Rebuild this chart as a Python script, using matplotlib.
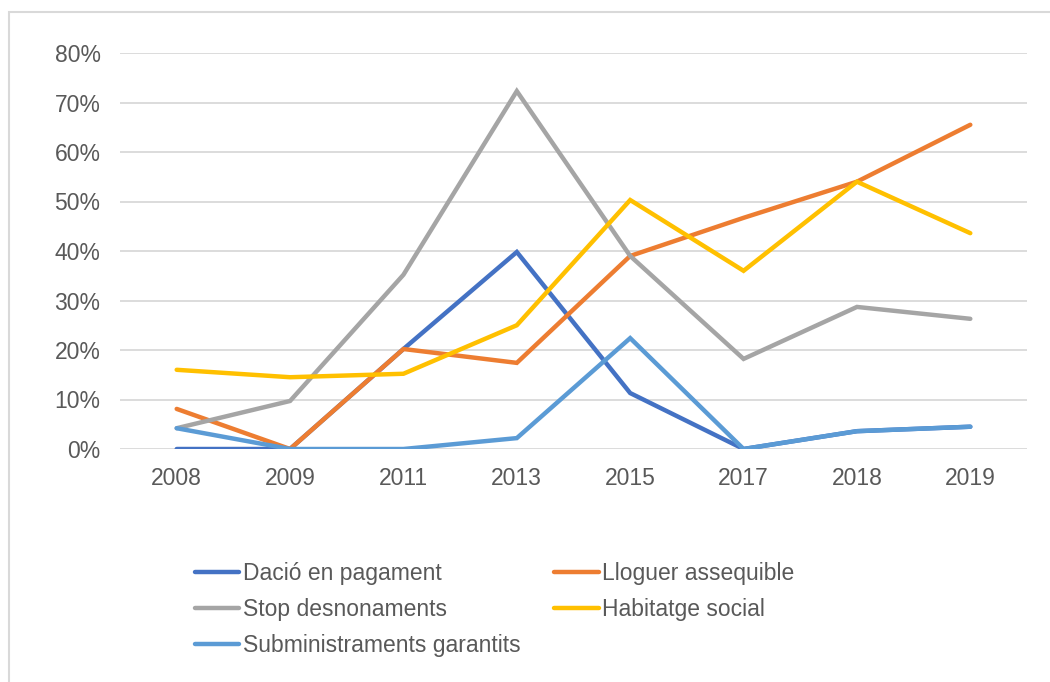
import numpy as np
import matplotlib.pyplot as plt
from matplotlib.lines import Line2D

plt.rcParams["font.family"] = ["Liberation Sans", "DejaVu Sans"]

# ── data (percent) ──
years = ["2008", "2009", "2011", "2013", "2015", "2017", "2018", "2019"]
dacio = [0.0, 0.0, 20.2, 39.8, 11.3, 0.0, 3.6, 4.5]
lloguer = [8.1, 0.0, 20.2, 17.4, 39.0, 46.7, 54.0, 65.5]
stop = [4.2, 9.7, 35.2, 72.3, 39.0, 18.2, 28.7, 26.3]
habitatge = [16.0, 14.5, 15.2, 25.0, 50.3, 36.0, 54.0, 43.6]
subministraments = [4.2, 0.0, 0.0, 2.2, 22.4, 0.0, 3.6, 4.5]

series = [
    ("Dació en pagament", dacio, "#4472C4"),
    ("Lloguer assequible", lloguer, "#ED7D31"),
    ("Stop desnonaments", stop, "#A5A5A5"),
    ("Habitatge social", habitatge, "#FFC000"),
    ("Subministraments garantits", subministraments, "#5B9BD5"),
]

text_col = "#595959"
fs = 16.5

fig = plt.figure(figsize=(10.5, 6.82), dpi=100)
ax = fig.add_axes([120 / 1050, 233 / 682, 907 / 1050, 396 / 682])

x = np.arange(len(years))
handles = {}
for name, vals, col in series:
    ln, = ax.plot(x, vals, color=col, lw=3.2, solid_capstyle="round",
                  solid_joinstyle="miter", label=name, zorder=3)
    handles[name] = ln

ax.set_xlim(-0.5, len(years) - 0.5)
ax.set_ylim(0, 80)
ax.set_yticks(np.arange(0, 81, 10))
ax.set_yticklabels([f"{v}%" for v in range(0, 81, 10)])
ax.set_xticks(x)
ax.set_xticklabels(years)
ax.grid(axis="y", color="#D9D9D9", lw=1.3, zorder=0)
for s in ax.spines.values():
    s.set_visible(False)
ax.tick_params(length=0, labelsize=fs, colors=text_col)
ax.tick_params(axis="y", pad=14)
ax.tick_params(axis="x", pad=13)

order = ["Dació en pagament", "Stop desnonaments", "Subministraments garantits",
         "Lloguer assequible", "Habitatge social"]
leg_handles = [Line2D([], [], color=handles[n].get_color(), lw=3.2,
                      solid_capstyle="round") for n in order]
fig.legend(leg_handles, order, ncol=2, loc="upper left",
           bbox_to_anchor=(174 / 1050, 1 - 541 / 682), frameon=False,
           fontsize=fs, labelcolor=text_col, handlelength=1.95,
           handletextpad=0.17, columnspacing=1.44, labelspacing=0.58)

# outer chart border
fig.add_artist(plt.Rectangle((9 / 1050, -0.05), 1.2, 1 - 12 / 682 + 0.05,
                             transform=fig.transFigure, fill=False,
                             edgecolor="#D9D9D9", lw=1.5))

fig.savefig("out.png", dpi=100)
